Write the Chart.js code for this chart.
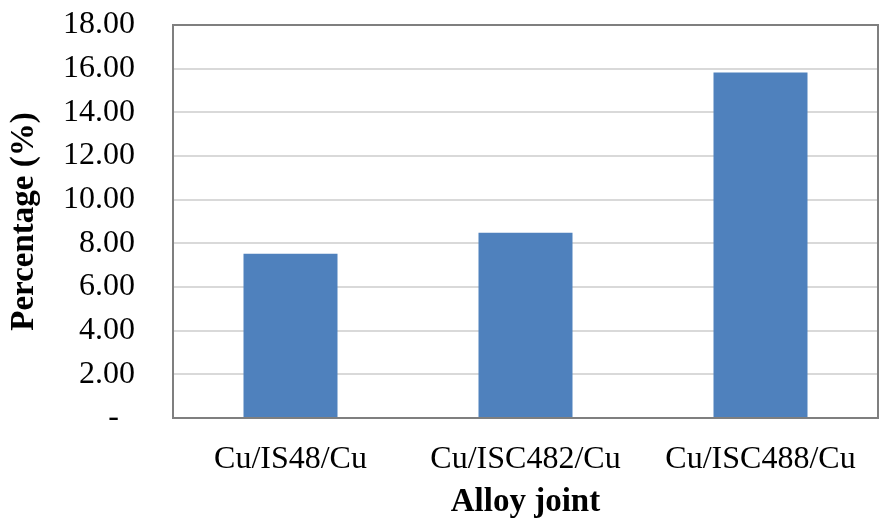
<!DOCTYPE html>
<html>
<head>
<meta charset="utf-8">
<script src="https://cdn.jsdelivr.net/npm/chart.js@4.4.1/dist/chart.umd.min.js"></script>
<style>
  html, body { margin: 0; padding: 0; background: #ffffff; }
  #wrap { width: 880px; height: 528px; }
</style>
</head>
<body>
<div id="wrap"><canvas id="chart" width="880" height="528"></canvas></div>
<script>
// Joint categories and measured percentages
const categories = ['Cu/IS48/Cu', 'Cu/ISC482/Cu', 'Cu/ISC488/Cu'];
const percentages = [7.52, 8.48, 15.82];
const yTicks = [0, 2, 4, 6, 8, 10, 12, 14, 16, 18];

const SERIF = "'Liberation Serif', 'Times New Roman', serif";

// Outline drawn around the whole plotting area
const plotFrame = {
  id: 'plotFrame',
  afterDatasetsDraw(chart) {
    const { ctx, chartArea: a } = chart;
    ctx.save();
    ctx.strokeStyle = '#7f7f7f';
    ctx.lineWidth = 2;
    ctx.strokeRect(a.left, a.top, a.right - a.left, a.bottom - a.top);
    ctx.restore();
  }
};

new Chart(document.getElementById('chart'), {
  type: 'bar',
  data: {
    labels: categories,
    datasets: [{
      data: percentages,
      backgroundColor: '#4f81bd',
      borderWidth: 0,
      barPercentage: 0.4,
      categoryPercentage: 1.0
    }]
  },
  options: {
    responsive: false,
    animation: false,
    devicePixelRatio: 1,
    layout: { padding: { top: 25, right: 2, left: 0, bottom: 0 } },
    plugins: {
      legend: { display: false },
      tooltip: { enabled: false }
    },
    scales: {
      x: {
        grid: { display: false, drawTicks: false },
        border: { display: false },
        ticks: {
          color: '#000000',
          padding: 22,
          maxRotation: 0,
          autoSkip: false,
          font: { family: SERIF, size: 32 }
        },
        title: {
          display: true,
          text: 'Alloy joint',
          color: '#000000',
          padding: { top: 0, bottom: 6 },
          font: { family: SERIF, size: 33, weight: 'bold' }
        },
        afterFit(scale) {
          scale.height = 110;
          scale.paddingLeft = 0;
          scale.paddingRight = 0;
        }
      },
      y: {
        min: 0,
        max: 18,
        afterBuildTicks(scale) { scale.ticks = yTicks.map(v => ({ value: v })); },
        grid: { color: '#d9d9d9', lineWidth: 2, drawTicks: false },
        border: { display: false },
        ticks: {
          color: '#000000',
          padding: 38,
          autoSkip: false,
          font: { family: SERIF, size: 32 },
          callback: v => (v === 0 ? '-  ' : Number(v).toFixed(2))
        },
        title: {
          display: true,
          text: 'Percentage (%)',
          color: '#000000',
          padding: { top: 5, bottom: 0 },
          font: { family: SERIF, size: 33, weight: 'bold' }
        },
        afterFit(scale) {
          scale.width = 173;
          scale.paddingTop = 0;
          scale.paddingBottom = 0;
        }
      }
    }
  },
  plugins: [plotFrame]
});
</script>
</body>
</html>
